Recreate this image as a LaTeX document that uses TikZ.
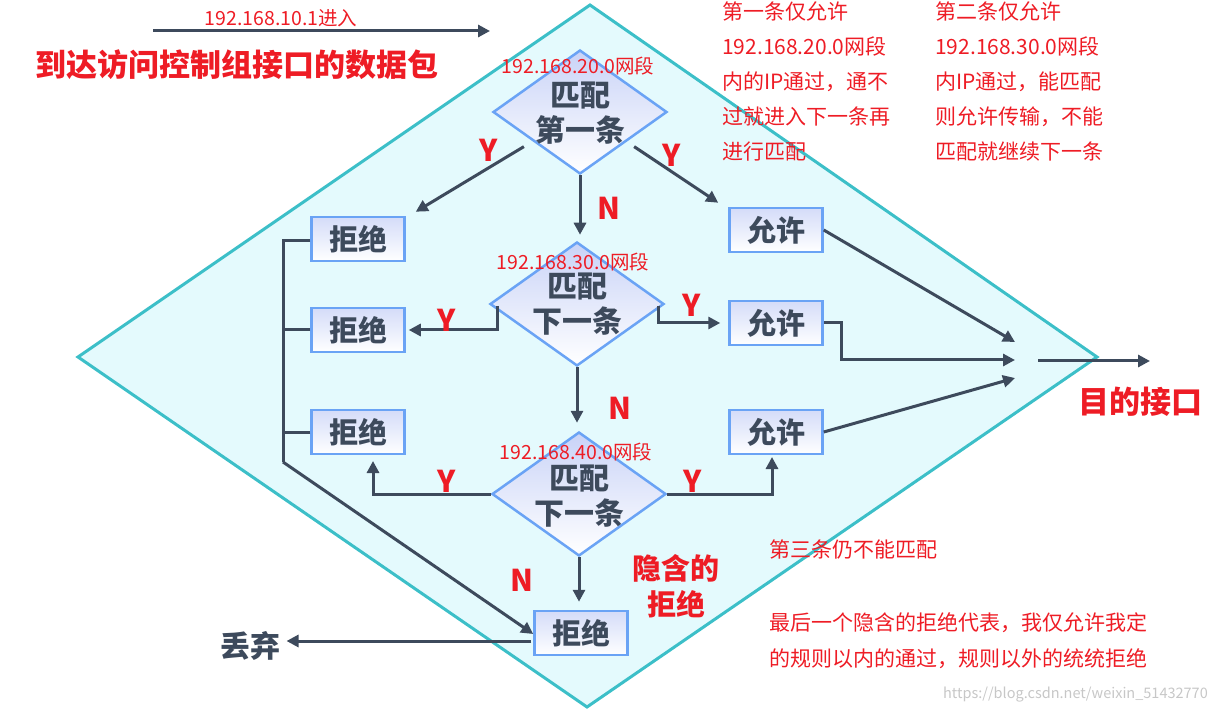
\documentclass[tikz,border=0pt]{standalone}
\usepackage{fontspec}
\setmainfont{Noto Sans CJK SC}
\usetikzlibrary{arrows.meta,shapes.geometric,calc}
\definecolor{dark}{HTML}{3D4A5C}
\definecolor{lab}{HTML}{EE1C25}
\definecolor{teal}{HTML}{3CBFC8}
\definecolor{cyanfill}{HTML}{E4FAFD}
\definecolor{boxline}{HTML}{6AA3F5}
\definecolor{boxtop}{HTML}{C9D3F7}
\tikzset{
  arr/.style={draw=dark,line width=3pt,-{Triangle[length=12pt,width=12pt]}},
  ln/.style={draw=dark,line width=3pt},
  dec/.style={diamond,draw=boxline,line width=2.5pt,top color=boxtop,bottom color=white,minimum width=174pt,minimum height=124pt,inner sep=0pt},
  dectext/.style={font=\fontsize{30}{35}\selectfont\bfseries,text=dark,align=center},
  box/.style={rectangle,draw=boxline,line width=2.5pt,top color=boxtop!80,bottom color=white,minimum width=93pt,minimum height=44pt,inner sep=0pt,font=\fontsize{29}{30}\selectfont\bfseries,text=dark},
  yn/.style={font=\fontsize{30}{30}\selectfont\bfseries,text=lab},
  ip/.style={font=\fontsize{19.5}{20}\selectfont,text=lab},
  note/.style={font=\fontsize{21}{35}\selectfont,text=lab,align=left,anchor=base west,inner sep=0pt},
  big/.style={font=\fontsize{31}{34}\selectfont\bfseries,text=lab}
}
\begin{document}
\begin{tikzpicture}[x=1pt,y=-1pt]
\useasboundingbox (0,0) rectangle (1216,711);
% big diamond
\draw[teal,fill=cyanfill,line width=3pt] (78,357) -- (590,5) -- (1097,357) -- (587,707) -- cycle;

% decision diamonds
\node[dec] (d1) at (580,112) {};
\node[dectext] (d1t) at (580,113) {匹配\\第一条};
\node[dec] (d2) at (577,304) {};
\node[dectext] (d2t) at (577,304) {匹配\\下一条};
\node[dec] (d3) at (579,494) {};
\node[dectext] (d3t) at (579,496) {匹配\\下一条};

% boxes
\node[box] (r1) at (358,239) {拒绝};
\node[box] (r2) at (358,330) {拒绝};
\node[box] (r3) at (358,432) {拒绝};
\node[box] (r4) at (581,633) {拒绝};
\node[box] (a1) at (776,230) {允许};
\node[box] (a2) at (776,323) {允许};
\node[box] (a3) at (776,432) {允许};

% IP labels
\node[ip] (l1) at (578,66) {192.168.20.0网段};
\node[ip] (l2) at (573,262) {192.168.30.0网段};
\node[ip] (l3) at (576,452) {192.168.40.0网段};

% top arrow
\coordinate (s1) at (153,31);
\coordinate (s2) at (490,31);
\draw[arr] (s1) -- (s2);
\node[ip] (l0) at (281,18) {192.168.10.1进入};
\node[big] (title) at (237,65) {到达访问控制组接口的数据包};

% flow from d1
\draw[arr,shorten >=6pt] (d1.south) -- (d1.south |- d2.north);
\node[yn] (n1) at (609,208) {N};
\draw[arr] ([shift={(-12pt,-3pt)}]d1.south west) -- ([shift={(10pt,4pt)}]r1.north east);
\node[yn] (y1) at (489,150) {Y};
\draw[arr] ([shift={(10pt,-3pt)}]d1.south east) -- ([shift={(-10pt,4pt)}]a1.north west);
\node[yn] (y2) at (672,155) {Y};

% flow from d2
\coordinate (d2l) at (497,306);
\coordinate (d2r) at (658,306);
\draw[arr,shorten >=3pt] (d2l) |- (r2.east);
\node[yn] (y3) at (447,320) {Y};
\draw[arr,shorten >=8pt] (d2r) |- (a2.west);
\node[yn] (y4) at (692,305) {Y};
\draw[arr,shorten >=8pt] (d2.south) -- (d2.south |- d3.north);
\node[yn] (n2) at (620,408) {N};

% flow from d3
\coordinate (r3b) at (373,454);
\coordinate (a3b) at (772,454);
\draw[arr,shorten >=7pt] (d3.west) -| (r3b);
\node[yn] (y5) at (447,481) {Y};
\draw[arr,shorten >=3pt] (d3.east) -| (a3b);
\node[yn] (y6) at (693,481) {Y};
\draw[arr,shorten >=8pt] (d3.south) -- (d3.south |- r4.north);
\node[yn] (n3) at (522,580) {N};

% left trunk
\coordinate (t1) at (283,241);
\coordinate (t2) at (283,462);
\draw[ln] (r1.west |- t1) -- (t1) -- (t2);
\draw[ln] (r2.west) -- (r2.west -| t1);
\draw[ln] (r3.west) -- (r3.west -| t1);
\draw[arr] (t2) -- ([yshift=-1pt]r4.west);

% discard
\node[font=\fontsize{30}{30}\selectfont\bfseries,text=dark] (drop) at (250,646) {丢弃};
\draw[arr,shorten <=2pt] ([yshift=-8pt]r4.west) -- ([xshift=3pt]drop.east |- 0,641);

% implicit deny label
\node[font=\fontsize{29}{36}\selectfont\bfseries,text=lab,align=center] (imp) at (676,586) {隐含的\\拒绝};

% permits to output
\coordinate (m1) at (1015,342);
\coordinate (m2) at (1015,360);
\coordinate (m3) at (1015,378);
\draw[arr] (a1.east) -- (m1);
\draw[arr] (a2.east) -- ++(18,0) |- (m2);
\draw[arr] (a3.east) -- (m3);
\coordinate (o1) at (1038,361);
\coordinate (o2) at (1150,361);
\draw[arr] (o1) -- (o2);
\node[big] (dest) at (1140,402) {目的接口};

% notes (base anchor = last line's baseline)
\node[note] (nt1) at (722,160) {第一条仅允许\\192.168.20.0网段\\内的IP通过，通不\\过就进入下一条再\\进行匹配};
\node[note] (nt2) at (935,160) {第二条仅允许\\192.168.30.0网段\\内IP通过，能匹配\\则允许传输，不能\\匹配就继续下一条};
\node[note] (nt3) at (769,557) {第三条仍不能匹配};
\node[note,font=\fontsize{21}{36}\selectfont] (nt4) at (769,666) {最后一个隐含的拒绝代表，我仅允许我定\\的规则以内的通过，规则以外的统统拒绝};
\node[anchor=base east,inner sep=0pt,font=\fontsize{14.5}{15}\selectfont,text=black!22] (wm) at (1208,698) {https://blog.csdn.net/weixin\_51432770};
\end{tikzpicture}
\end{document}
